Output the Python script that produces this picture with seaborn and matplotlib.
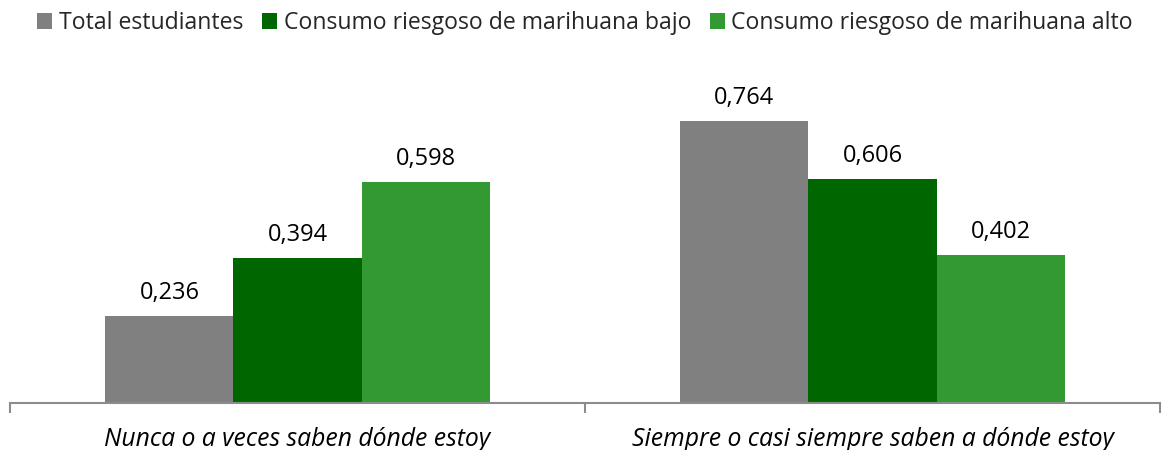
import pandas as pd
import matplotlib.pyplot as plt
import seaborn as sns
from matplotlib.ticker import FixedLocator

# Data
categories = ['Nunca o a veces saben dónde estoy', 'Siempre o casi siempre saben a dónde estoy']
series = ['Total estudiantes', 'Consumo riesgoso de marihuana bajo', 'Consumo riesgoso de marihuana alto']
total = [0.236, 0.764]
bajo = [0.394, 0.606]
alto = [0.598, 0.402]
colors = ['#808080', '#006600', '#339933']

df = pd.DataFrame({
    'categoria': categories * 3,
    'serie': [s for s in series for _ in categories],
    'valor': total + bajo + alto,
})

sns.set_theme(style='white')
plt.rcParams['font.family'] = ['Open Sans', 'DejaVu Sans']

fig = plt.figure(figsize=(11.64, 4.5), dpi=100)
ax = fig.add_axes([10 / 1164, 47 / 450, 1150 / 1164, 369 / 450])

sns.barplot(data=df, x='categoria', y='valor', hue='serie', palette=colors,
            width=0.668, ax=ax, saturation=1, linewidth=0, edgecolor='none')

for c in ax.containers:
    ax.bar_label(c, labels=[f'{v:.3f}'.replace('.', ',') for v in c.datavalues],
                 padding=8, fontsize=17, color='#000000')

ax.set_xlim(-0.5, 1.5)
ax.set_ylim(0, 1)
ax.set_xlabel('')
ax.set_ylabel('')
ax.set_yticks([])
for side in ['top', 'right', 'left']:
    ax.spines[side].set_visible(False)
ax.spines['bottom'].set_color('#8c8c8c')
ax.spines['bottom'].set_linewidth(1.5)

ax.tick_params(axis='x', which='major', length=0, pad=17, labelsize=17.8, labelcolor='#000000')
for t in ax.get_xticklabels():
    t.set_fontstyle('italic')
ax.xaxis.set_minor_locator(FixedLocator([-0.5, 0.5, 1.5]))
ax.tick_params(axis='x', which='minor', bottom=True, length=7, width=1.5,
               color='#8c8c8c', direction='out')

handles, labels = ax.get_legend_handles_labels()
ax.legend(handles, labels, loc='center', bbox_to_anchor=(0.5, 1.03), ncol=3,
          frameon=False, fontsize=16.6, handlelength=0.65, handleheight=0.65,
          handletextpad=0.3, columnspacing=0.8, borderaxespad=0)

fig.savefig('out.png', dpi=100)
